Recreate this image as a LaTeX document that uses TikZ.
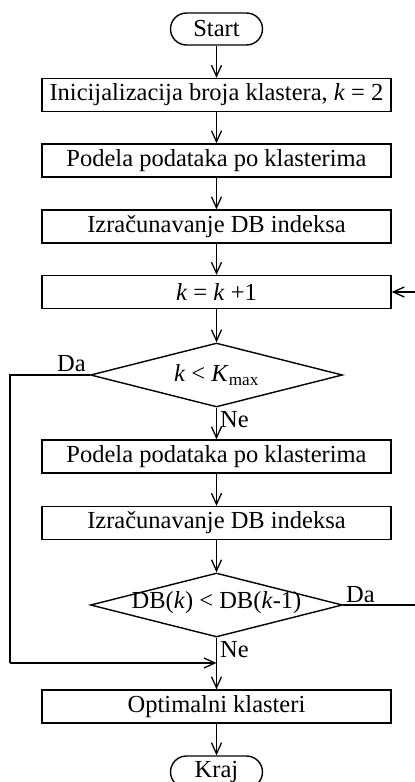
\documentclass[tikz,border=0pt]{standalone}
\usepackage{fontspec}
\setmainfont{Liberation Serif}
\usetikzlibrary{shapes.geometric,arrows.meta}
\tikzset{
  base/.style={draw, line width=1.4pt, font=\fontsize{24.5}{27}\selectfont, inner sep=0pt},
  procbox/.style={base, rectangle, minimum width=349pt, minimum height=33pt},
  term/.style={base, rectangle, rounded corners=16pt, minimum width=92pt, minimum height=32pt},
  decision/.style={base, diamond, aspect=3.9, minimum width=252pt, minimum height=64pt},
  dtext/.style={font=\fontsize{24.5}{27}\selectfont, inner sep=0pt},
  lbl/.style={font=\fontsize{24.5}{27}\selectfont, inner sep=0pt, anchor=base west},
  conn/.style={line width=1.4pt, -{Straight Barb[length=11pt,width=10pt,line width=1.3pt]}},
  plain/.style={line width=1.4pt}
}
\begin{document}
\begin{tikzpicture}[x=1pt,y=-1pt]
\useasboundingbox (0,0) rectangle (415,782);
\node[term] (start) at (216.5,29) {Start};
\node[procbox] (b1) at (216.5,95) {Inicijalizacija broja klastera, \textit{k} = 2};
\node[procbox] (b2) at (216.5,160.5) {Podela podataka po klasterima};
\node[procbox] (b3) at (216.5,226.5) {Izračunavanje DB indeksa};
\node[procbox] (b4) at (216.5,292) {\textit{k} = \textit{k} +1};
\node[decision] (d1) at (216.5,375) {};
\node[dtext] (d1t) at (216.5,375) {\textit{k} < \textit{K}\textsubscript{max}};
\node[procbox] (b5) at (216.5,456.5) {Podela podataka po klasterima};
\node[procbox] (b6) at (216.5,523) {Izračunavanje DB indeksa};
\node[decision] (d2) at (216.5,605) {};
\node[dtext] (d2t) at (216.5,603) {DB(\textit{k}) < DB(\textit{k}-1)};
\node[procbox] (b7) at (216.5,706.5) {Optimalni klasteri};
\node[term] (kraj) at (216.5,772) {Kraj};

\coordinate (l1) at (10,375);
\coordinate (l2) at (10,663);
\coordinate (m) at (216.5,663);
\coordinate (r1) at (415,605);
\coordinate (r2) at (415,292);

\draw[conn] (start) -- (b1);
\draw[conn] (b1) -- (b2);
\draw[conn] (b2) -- (b3);
\draw[conn] (b3) -- (b4);
\draw[conn] (b4) -- (d1);
\draw[conn] (d1) -- (b5);
\draw[conn] (b5) -- (b6);
\draw[conn] (b6) -- (d2);
\draw[conn] (d2) -- (b7);
\draw[conn] (b7) -- (kraj);
\draw[plain] (d1.west) -- (l1) -- (l2);
\draw[conn] (l2) -- (m);
\draw[plain] (d2.east) -- (r1);
\draw[conn] (r2) -- (b4.east);

\node[lbl] (da1) at (57,371) {Da};
\node[lbl] (ne1) at (220,427) {Ne};
\node[lbl] (da2) at (346,602) {Da};
\node[lbl] (ne2) at (220,657) {Ne};
\end{tikzpicture}
\end{document}
